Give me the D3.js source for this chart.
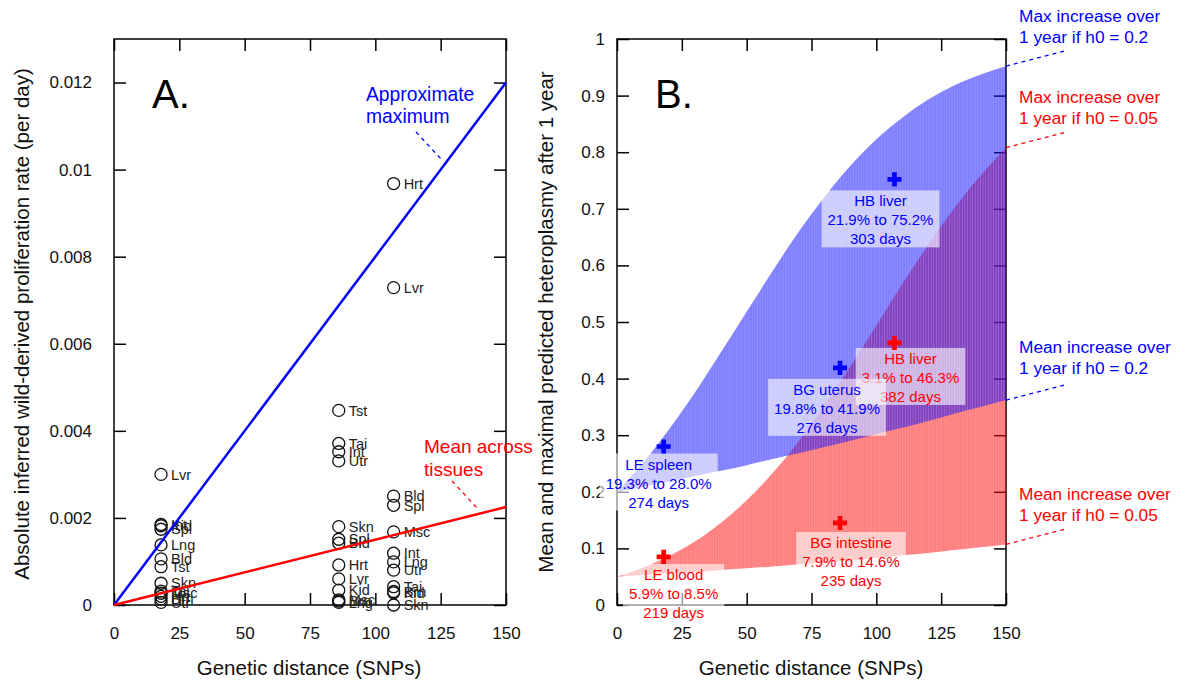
<!DOCTYPE html>
<html>
<head>
<meta charset="utf-8">
<script src="https://cdn.jsdelivr.net/npm/d3@7"></script>
<style>
body { margin: 0; background: #fff; }
svg text { font-family: "Liberation Sans", Arial, sans-serif; }
</style>
</head>
<body>
<div id="chart-area"></div>
<script>
// ---- panel A: inferred proliferation rate per tissue ----
var sampleDist = { LE: 18, BG: 86, HB: 107 };

var tissuesLE = ["Lvr", "Int", "Kid", "Spl", "Lng", "Bld", "Tst", "Skn", "Tai", "Msc", "Hrt", "Brn", "Utr"];
var ratesLE   = [0.0030, 0.00185, 0.00182, 0.00174, 0.00138, 0.00106, 0.00088, 0.00050, 0.00032, 0.00027, 0.00020, 0.00014, 0.00006];

var tissuesBG = ["Tst", "Tai", "Int", "Utr", "Skn", "Spl", "Bld", "Hrt", "Lvr", "Kid", "Msc", "Brn", "Lng"];
var ratesBG   = [0.00447, 0.00371, 0.00352, 0.00331, 0.00180, 0.00151, 0.00142, 0.00092, 0.00060, 0.00034, 0.00012, 0.00009, 0.00006];

var tissuesHB = ["Hrt", "Lvr", "Bld", "Spl", "Msc", "Int", "Lng", "Utr", "Tai", "Brn", "Kid", "Skn"];
var ratesHB   = [0.00968, 0.00729, 0.00250, 0.00229, 0.00168, 0.00119, 0.00099, 0.00080, 0.00042, 0.00031, 0.00028, 0.00000];

var lineDist    = [0, 150];
var approxMax   = [0, 0.012];
var meanTissues = [0, 0.00225];

var rateTicks = [0, 0.002, 0.004, 0.006, 0.008, 0.010, 0.012];
var distTicks = [0, 25, 50, 75, 100, 125, 150];

// ---- panel B: predicted heteroplasmy after 1 year ----
var curveDist = [0, 10, 20, 30, 40, 50, 60, 70, 80, 90, 100, 110, 120, 130, 140, 150];
var maxH02    = [0.200, 0.251, 0.310, 0.375, 0.446, 0.518, 0.590, 0.659, 0.721, 0.776, 0.823, 0.861, 0.893, 0.918, 0.937, 0.952];
var meanH02   = [0.200, 0.209, 0.218, 0.228, 0.237, 0.247, 0.258, 0.268, 0.279, 0.290, 0.302, 0.313, 0.325, 0.338, 0.350, 0.362];
var maxH005   = [0.050, 0.066, 0.086, 0.112, 0.145, 0.185, 0.233, 0.289, 0.352, 0.422, 0.494, 0.567, 0.636, 0.701, 0.758, 0.808];
var meanH005  = [0.050, 0.053, 0.056, 0.058, 0.062, 0.065, 0.068, 0.072, 0.075, 0.079, 0.083, 0.088, 0.092, 0.097, 0.102, 0.107];

var caseNames  = ["HB liver", "BG uterus", "LE spleen", "HB liver", "BG intestine", "LE blood"];
var caseDist   = [107, 86, 18, 107, 86, 18];
var caseHetero = [0.752, 0.419, 0.280, 0.463, 0.145, 0.085];
var caseRange  = ["21.9% to 75.2%", "19.8% to 41.9%", "19.3% to 28.0%", "3.1% to 46.3%", "7.9% to 14.6%", "5.9% to 8.5%"];
var caseDays   = ["303 days", "276 days", "274 days", "382 days", "235 days", "219 days"];
var caseH0     = [0.2, 0.2, 0.2, 0.05, 0.05, 0.05];

var heteroTicks = [0, 0.1, 0.2, 0.3, 0.4, 0.5, 0.6, 0.7, 0.8, 0.9, 1];

var BLUE = "#0000ff", RED = "#ff0000";

var svg = d3.select("#chart-area")
    .append("svg")
        .attr("width", 1182)
        .attr("height", 680);

var xA = d3.scaleLinear().domain([0, 150]).range([114, 506]);
var yA = d3.scaleLinear().domain([0, 0.013]).range([605, 39]);
var xB = d3.scaleLinear().domain([0, 150]).range([617, 1006]);
var yB = d3.scaleLinear().domain([0, 1]).range([605, 39]);

function frame(x, y, xt, yt, yfmt, ypad) {
    var g = svg.append("g").attr("class", "frame");
    var x0 = x.range()[0], x1 = x.range()[1], y0 = y.range()[0], y1 = y.range()[1];

    g.append("g").attr("transform", "translate(0," + y0 + ")")
        .call(d3.axisBottom(x).tickValues(xt).tickSizeInner(-12).tickSizeOuter(0).tickPadding(22));
    g.append("g").attr("transform", "translate(0," + y1 + ")")
        .call(d3.axisTop(x).tickValues(xt).tickSizeInner(-12).tickSizeOuter(0).tickFormat(""));
    g.append("g").attr("transform", "translate(" + x0 + ",0)")
        .call(d3.axisLeft(y).tickValues(yt).tickSizeInner(-12).tickSizeOuter(0).tickPadding(ypad).tickFormat(yfmt));
    g.append("g").attr("transform", "translate(" + x1 + ",0)")
        .call(d3.axisRight(y).tickValues(yt).tickSizeInner(-12).tickSizeOuter(0).tickFormat(""));

    g.selectAll(".domain").remove();
    g.selectAll(".tick line").attr("stroke", "#000").attr("stroke-width", 1.5);
    g.selectAll(".tick text").attr("font-size", "17px").attr("fill", "#111")
        .attr("font-family", "Liberation Sans, Arial, sans-serif");

    g.append("rect")
        .attr("x", x0).attr("y", y1)
        .attr("width", x1 - x0).attr("height", y0 - y1)
        .attr("fill", "none").attr("stroke", "#000").attr("stroke-width", 1.5);
}

function numFmt(d) { return d === 0 ? "0" : String(+d.toFixed(3)); }

// ---------------- Panel A ----------------
frame(xA, yA, distTicks, rateTicks, numFmt, 22);

var pts = [];
[["LE", tissuesLE, ratesLE], ["BG", tissuesBG, ratesBG], ["HB", tissuesHB, ratesHB]].forEach(function(s) {
    s[1].forEach(function(t, i) {
        pts.push({ sample: s[0], tissue: t, dist: sampleDist[s[0]], rate: s[2][i] });
    });
});

var ptG = svg.append("g").attr("class", "points");
ptG.selectAll("circle")
    .data(pts)
    .enter().append("circle")
        .attr("cx", function(d) { return xA(d.dist); })
        .attr("cy", function(d) { return yA(d.rate); })
        .attr("r", 6)
        .attr("fill", "none")
        .attr("stroke", "#111")
        .attr("stroke-width", 1.3);
ptG.selectAll("text")
    .data(pts)
    .enter().append("text")
        .attr("x", function(d) { return xA(d.dist) + 10; })
        .attr("y", function(d) { return yA(d.rate); })
        .attr("dy", "0.36em")
        .attr("font-size", "14.5px")
        .attr("fill", "#222")
        .text(function(d) { return d.tissue; });

var lineA = function(vals) {
    return d3.line()
        .x(function(d, i) { return xA(lineDist[i]); })
        .y(function(d) { return yA(d); })(vals);
};
svg.append("path").attr("d", lineA(approxMax)).attr("stroke", BLUE).attr("stroke-width", 2.5).attr("fill", "none");
svg.append("path").attr("d", lineA(meanTissues)).attr("stroke", RED).attr("stroke-width", 2.5).attr("fill", "none");

svg.append("text").attr("x", 152).attr("y", 108).attr("font-size", "40px").attr("fill", "#000").text("A.");

var approxLbl = svg.append("text").attr("font-size", "19.3px").attr("fill", BLUE);
approxLbl.append("tspan").attr("x", 366).attr("y", 101).text("Approximate");
approxLbl.append("tspan").attr("x", 366).attr("y", 123).text("maximum");
svg.append("line").attr("x1", 416).attr("y1", 132).attr("x2", 442).attr("y2", 160)
    .attr("stroke", BLUE).attr("stroke-width", 1.3).attr("stroke-dasharray", "4,4");

var meanLbl = svg.append("text").attr("font-size", "19px").attr("fill", RED);
meanLbl.append("tspan").attr("x", 424).attr("y", 453).text("Mean across");
meanLbl.append("tspan").attr("x", 424).attr("y", 476).text("tissues");
svg.append("line").attr("x1", 452).attr("y1", 481).attr("x2", 478).attr("y2", 509)
    .attr("stroke", RED).attr("stroke-width", 1.3).attr("stroke-dasharray", "4,4");

svg.append("text")
    .attr("x", 309).attr("y", 675)
    .attr("text-anchor", "middle")
    .attr("font-size", "20.5px").attr("fill", "#111")
    .text("Genetic distance (SNPs)");
svg.append("text")
    .attr("transform", "translate(29,324) rotate(-90)")
    .attr("text-anchor", "middle")
    .attr("font-size", "20.5px").attr("fill", "#111")
    .text("Absolute inferred wild-derived proliferation rate (per day)");

// ---------------- Panel B ----------------
frame(xB, yB, distTicks, heteroTicks, numFmt, 12);

var bandData = curveDist.map(function(d, i) {
    return { dist: d, maxH02: maxH02[i], meanH02: meanH02[i], maxH005: maxH005[i], meanH005: meanH005[i] };
});
function band(lo, hi) {
    return d3.area()
        .x(function(d) { return xB(d.dist); })
        .y0(function(d) { return yB(d[lo]); })
        .y1(function(d) { return yB(d[hi]); })
        .curve(d3.curveMonotoneX)(bandData);
}

// faint vertical striping like the original filled bars
var defs = svg.append("defs");
var stripe = defs.append("pattern")
    .attr("id", "stripes")
    .attr("patternUnits", "userSpaceOnUse")
    .attr("x", xB(0)).attr("y", 0)
    .attr("width", xB(1) - xB(0)).attr("height", 10);
stripe.append("rect")
    .attr("x", 0).attr("y", 0).attr("width", 0.6).attr("height", 10)
    .attr("fill", "#fff").attr("fill-opacity", 0.18);

svg.append("path").attr("d", band("meanH005", "maxH005")).attr("fill", RED).attr("fill-opacity", 0.5);
svg.append("path").attr("d", band("meanH02", "maxH02")).attr("fill", BLUE).attr("fill-opacity", 0.5);
svg.append("path").attr("d", band("meanH005", "maxH005")).attr("fill", "url(#stripes)");
svg.append("path").attr("d", band("meanH02", "maxH02")).attr("fill", "url(#stripes)");

var cases = caseNames.map(function(n, i) {
    return { name: n, dist: caseDist[i], h: caseHetero[i], range: caseRange[i], days: caseDays[i],
             color: caseH0[i] === 0.2 ? BLUE : RED, shift: i };
});
// label offset from its marker (label centre x, first line y)
var labelShift = [[-14, 22], [-13, 22], [-5, 18], [16, 16], [11, 20], [10, 18]];

var caseG = svg.append("g").attr("class", "cases");
// red labels first so the blue boxes sit on top where they meet
cases.slice().reverse().forEach(function(d) {
    var cx = xB(d.dist) + labelShift[d.shift][0];
    var cy = yB(d.h) + labelShift[d.shift][1];
    var g = caseG.append("g");
    var t = g.append("text").attr("text-anchor", "middle").attr("font-size", "15px").attr("fill", d.color);
    t.append("tspan").attr("x", cx).attr("y", cy + 5).text(d.name);
    t.append("tspan").attr("x", cx).attr("y", cy + 24).text(d.range);
    t.append("tspan").attr("x", cx).attr("y", cy + 43).text(d.days);
    var bb = t.node().getBBox();
    g.insert("rect", "text")
        .attr("x", bb.x - 6).attr("y", cy - 11)
        .attr("width", bb.width + 12).attr("height", 57)
        .attr("fill", "#fff").attr("fill-opacity", 0.6);
});
caseG.selectAll("path.mark")
    .data(cases)
    .enter().append("path")
        .attr("class", "mark")
        .attr("transform", function(d) { return "translate(" + xB(d.dist) + "," + yB(d.h) + ")"; })
        .attr("d", d3.symbol(d3.symbolCross).size(110))
        .attr("fill", function(d) { return d.color; });

svg.append("text").attr("x", 655).attr("y", 108).attr("font-size", "40px").attr("fill", "#000").text("B.");

var sideNotes = [
    { l1: "Max increase over",  l2: "1 year if h0 = 0.2",  y: 22,  key: "maxH02",   color: BLUE },
    { l1: "Max increase over",  l2: "1 year if h0 = 0.05", y: 103, key: "maxH005",  color: RED },
    { l1: "Mean increase over", l2: "1 year if h0 = 0.2",  y: 353, key: "meanH02",  color: BLUE },
    { l1: "Mean increase over", l2: "1 year if h0 = 0.05", y: 500, key: "meanH005", color: RED }
];
var last = bandData[bandData.length - 1];
sideNotes.forEach(function(n) {
    var t = svg.append("text").attr("font-size", "17.3px").attr("fill", n.color);
    t.append("tspan").attr("x", 1019).attr("y", n.y).text(n.l1);
    t.append("tspan").attr("x", 1019).attr("y", n.y + 21).text(n.l2);
    var ey = yB(last[n.key]);
    svg.append("line")
        .attr("x1", xB(150)).attr("y1", ey)
        .attr("x2", xB(150) + 62).attr("y2", ey - 16)
        .attr("stroke", n.color).attr("stroke-width", 1.3).attr("stroke-dasharray", "4,4");
});

svg.append("text")
    .attr("x", 811).attr("y", 675)
    .attr("text-anchor", "middle")
    .attr("font-size", "20.5px").attr("fill", "#111")
    .text("Genetic distance (SNPs)");
svg.append("text")
    .attr("transform", "translate(553,322) rotate(-90)")
    .attr("text-anchor", "middle")
    .attr("font-size", "20.5px").attr("fill", "#111")
    .text("Mean and maximal predicted heteroplasmy after 1 year");
</script>
</body>
</html>
